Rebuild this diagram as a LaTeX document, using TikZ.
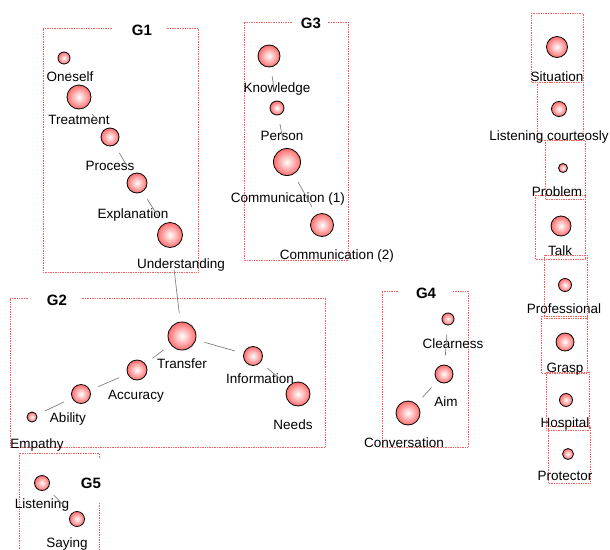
\documentclass[tikz,border=0pt]{standalone}
\usepackage{fontspec}
\setmainfont{Liberation Sans}

\begin{document}
\begin{tikzpicture}[
x=1pt, y=-1pt,
bub/.style={circle, draw=black, line width=0.8pt, inner sep=0pt, minimum size=#1, inner color=white, outer color=red!58},
lab/.style={inner sep=0pt, font=\fontsize{13.5}{14}\selectfont, text height=10pt, text depth=0pt},
gtitle/.style={inner sep=0pt, font=\bfseries\fontsize{15}{16}\selectfont, text height=11pt, text depth=0pt},
grp/.style={draw=red!65, densely dotted, line width=0.7pt},
link/.style={draw=gray, line width=0.7pt, shorten <=9pt, shorten >=9pt}]

\useasboundingbox (0,0) rectangle (610,549);

% group frames
\draw[grp] (112,28) -- (43,28) |- (198,272) |- (167,28);
\draw[grp] (292,22) -- (244,22) |- (348,260) |- (328,22);
\draw[grp] (28,298) -- (10,298) |- (325,447) |- (82,298);
\draw[grp] (398,291) -- (382,291) |- (468,447) |- (453,291);
\draw[grp] (99,458) |- (19,453) -- (19,549);
\draw[grp] (99,503) -- (99,549);

\node[gtitle] (g1) at (142,30) {G1};
\node[gtitle] (g3) at (311,23) {G3};
\node[gtitle] (g2) at (57,300) {G2};
\node[gtitle] (g4) at (426,293) {G4};
\node[gtitle] (g5) at (91,483) {G5};

% single frames on the right
\draw[grp] (531,13) rectangle (583,82);
\draw[grp] (537,82) rectangle (583,140);
\draw[grp] (545,140) rectangle (585,199);
\draw[grp] (535,195) rectangle (585,259);
\draw[grp] (544,255) rectangle (587,318);
\draw[grp] (541,316) rectangle (587,373);
\draw[grp] (546,372) rectangle (589,430);
\draw[grp] (548,426) rectangle (590,483);

% G1
\node[bub=12pt] (one) at (64,58) {};
\node[bub=24pt] (trt) at (79,97) {};
\node[bub=18pt] (pro) at (110,137) {};
\node[bub=20pt] (exp) at (137,183) {};
\node[bub=25pt] (und) at (170,235) {};
\node[lab] (one-l) at (70,76) {Oneself};
\node[lab] (trt-l) at (79,119) {Treatment};
\node[lab] (pro-l) at (110,165) {Process};
\node[lab] (exp-l) at (133,213) {Explanation};
\node[lab] (und-l) at (181,263) {Understanding};

% G3
\node[bub=22pt] (kno) at (269,56) {};
\node[bub=14pt] (per) at (277,108) {};
\node[bub=27pt] (coa) at (287,162) {};
\node[bub=23pt] (cob) at (322,225) {};
\node[lab] (kno-l) at (277,87) {Knowledge};
\node[lab] (per-l) at (282,135) {Person};
\node[lab] (coa-l) at (288,197) {Communication (1)};
\node[lab] (cob-l) at (337,254) {Communication (2)};

% G2
\node[bub=28pt] (trf) at (182,336) {};
\node[bub=19pt] (inf) at (253,356) {};
\node[bub=24pt] (nee) at (298,394) {};
\node[bub=20pt] (acc) at (137,370) {};
\node[bub=19pt] (abi) at (81,394) {};
\node[bub=10pt] (emp) at (32,417) {};
\node[lab] (trf-l) at (182,363) {Transfer};
\node[lab] (inf-l) at (260,378) {Information};
\node[lab] (nee-l) at (293,424) {Needs};
\node[lab] (acc-l) at (136,394) {Accuracy};
\node[lab] (abi-l) at (68,417) {Ability};
\node[lab] (emp-l) at (37,443) {Empathy};

% G4
\node[bub=12pt] (cle) at (448,319) {};
\node[bub=18pt] (aim) at (444,374) {};
\node[bub=24pt] (con) at (408,413) {};
\node[lab] (cle-l) at (453,343) {Clearness};
\node[lab] (aim-l) at (446,401) {Aim};
\node[lab] (con-l) at (404,442) {Conversation};

% G5
\node[bub=15pt] (lis) at (42,483) {};
\node[bub=15pt] (say) at (77,519) {};
\node[lab] (lis-l) at (42,503) {Listening};
\node[lab] (say-l) at (67,542) {Saying};

% right column
\node[bub=21pt] (sit) at (557,47) {};
\node[bub=15pt] (lco) at (559,109) {};
\node[bub=9pt] (prb) at (563,168) {};
\node[bub=20pt] (tlk) at (561,226) {};
\node[bub=13pt] (prf) at (565,285) {};
\node[bub=18pt] (gra) at (565,342) {};
\node[bub=13pt] (hos) at (566,400) {};
\node[bub=11pt] (prt) at (568,454) {};
\node[lab] (sit-l) at (557,76) {Situation};
\node[lab] (lco-l) at (549,135) {Listening courteosly};
\node[lab] (prb-l) at (557,191) {Problem};
\node[lab] (tlk-l) at (560,250) {Talk};
\node[lab] (prf-l) at (564,308) {Professional};
\node[lab] (gra-l) at (565,367) {Grasp};
\node[lab] (hos-l) at (565,422) {Hospital};
\node[lab] (prt-l) at (565,475) {Protector};

% links
\draw[link] (one) -- (trt);
\draw[link] (trt) -- (pro);
\draw[link] (pro) -- (exp);
\draw[link] (exp) -- (und);
\draw[link, shorten <=22pt] (und) -- (trf);
\draw[link] (kno) -- (per);
\draw[link] (per) -- (coa);
\draw[link] (coa) -- (cob);
\draw[link] (trf) -- (inf);
\draw[link] (inf) -- (nee);
\draw[link] (trf) -- (acc);
\draw[link] (acc) -- (abi);
\draw[link] (abi) -- (emp);
\draw[link] (cle) -- (aim);
\draw[link] (aim) -- (con);
\draw[link] (lis) -- (say);
\end{tikzpicture}
\end{document}
